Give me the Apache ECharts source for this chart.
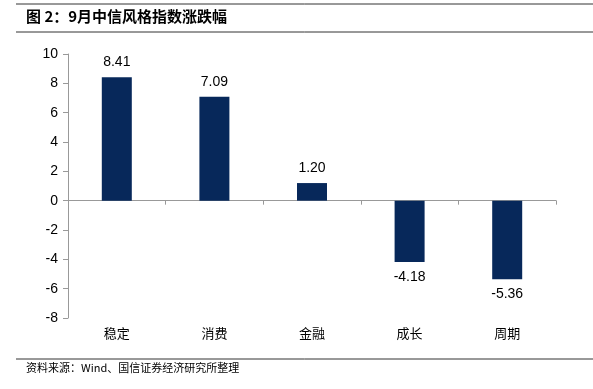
<!DOCTYPE html>
<html><head><meta charset="utf-8">
<script src="https://cdn.jsdelivr.net/npm/echarts@6/dist/echarts.min.js"></script>
<style>html,body{margin:0;padding:0;background:#fff}#c{width:593px;height:389px}</style>
</head><body><div id="c"></div>
<script>
const categories = ['稳定','消费','金融','成长','周期'];
const values = [8.41, 7.09, 1.20, -4.18, -5.36];
const yTicks = [-8,-6,-4,-2,0,2,4,6,8,10];
const titleText = '图 2：9月中信风格指数涨跌幅';
const sourceText = '资料来源：Wind、国信证券经济研究所整理';

const chart = echarts.init(document.getElementById('c'), null, {renderer:'canvas'});
chart.setOption({
  animation:false,
  backgroundColor:'#fff',
  grid:{left:68,right:37,top:54,bottom:71,containLabel:false},
  xAxis:{type:'category',data:categories,position:'bottom',
    axisLine:{onZero:true,lineStyle:{color:'#999',width:1}},
    axisTick:{show:true,alignWithLabel:false,length:4,lineStyle:{color:'#999'}},
    axisLabel:{show:false}},
  yAxis:{type:'value',min:-8,max:10,interval:2,
    axisLine:{show:true,lineStyle:{color:'#999'}},
    axisTick:{show:true,length:5,lineStyle:{color:'#999'}},
    splitLine:{show:false},
    axisLabel:{color:'#000',fontSize:14,fontFamily:'Liberation Sans, Arial',margin:10,
      formatter:v=>yTicks.includes(v)?String(v):''}},
  series:[{type:'bar',barWidth:30,
    data:values.map(v=>({value:v,label:{position:v<0?'bottom':'top'}})),
    itemStyle:{color:'#07285a'},
    label:{show:true,fontSize:14,color:'#000',fontFamily:'Liberation Sans, Arial',distance:8,
      formatter:p=>p.value.toFixed(2)}}],
  graphic:[
    {type:'line',shape:{x1:16,y1:4,x2:593,y2:4},style:{stroke:'#333',lineWidth:1}},
    {type:'text',left:26,top:9,style:{text:titleText,font:'bold 15px "Noto Sans CJK SC", sans-serif',fill:'#000'}},
    {type:'line',shape:{x1:16,y1:32,x2:593,y2:32},style:{stroke:'#333',lineWidth:1}},
    {type:'line',shape:{x1:16,y1:359,x2:593,y2:359},style:{stroke:'#333',lineWidth:1}},
    {type:'text',left:26,top:362,style:{text:sourceText,font:'11px "Noto Sans CJK SC", sans-serif',fill:'#000'}}
  ]
});
const base = chart.getOption().graphic[0].elements;
const extra = categories.map((c,i)=>{
  const p = chart.convertToPixel({gridIndex:0},[i,-8]);
  return {type:'text',x:p[0],y:p[1]+15,style:{text:c,font:'13px "Noto Sans CJK SC", serif',fill:'#000',align:'center',verticalAlign:'middle'}};
});
chart.setOption({graphic:base.concat(extra)});
</script></body></html>
